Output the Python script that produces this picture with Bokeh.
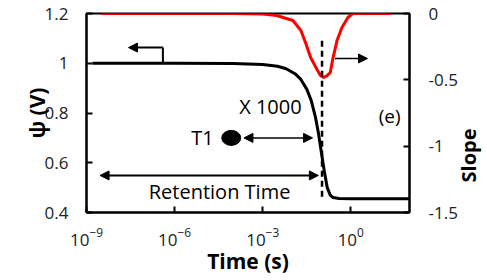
import math
from bokeh.plotting import figure
from bokeh.models import (Range1d, LinearAxis, FixedTicker, Arrow, NormalHead,
                          Label)
from bokeh.embed import file_html
from bokeh.resources import INLINE

# ---- data ----
psi_time = [1.6e-9, 1e-6, 1e-4, 1e-3, 3.2e-3, 6.3e-3, 1.26e-2, 2e-2, 3.2e-2, 4.5e-2,
            6.3e-2, 7.9e-2, 0.1, 0.126, 0.158, 0.2, 0.25, 0.4, 1.0, 10.0, 100.0]
psi_val = [1.0, 1.0, 0.999, 0.995, 0.988, 0.978, 0.958, 0.935, 0.895, 0.85,
           0.782, 0.72, 0.64, 0.565, 0.5, 0.47, 0.46, 0.456, 0.455, 0.455, 0.455]

slope_time = [3.4e-9, 1e-4, 1e-3, 3e-3, 1.07e-2, 2e-2, 2.95e-2, 4.3e-2, 7.4e-2, 0.093,
              0.118, 0.15, 0.2, 0.25, 0.34, 0.5, 0.8, 1.17, 23.0]
slope_val = [0.0, 0.0, -0.003, -0.015, -0.053, -0.128, -0.226, -0.332, -0.43, -0.468,
             -0.482, -0.472, -0.445, -0.332, -0.204, -0.106, -0.03, 0.0, 0.0]

x_ticks = [1e-9, 1e-6, 1e-3, 1.0]
y_ticks = [0.4, 0.6, 0.8, 1.0, 1.2]
y_tick_labels = ["0.4", "0.6", "0.8", "1", "1.2"]
slope_ticks = [0.0, -0.5, -1.0, -1.5]
slope_tick_labels = ["0", "-0.5", "-1", "-1.5"]

retention_t = 0.105           # dashed marker time
t1_time = 8.5e-5              # T1 point
t1_psi = 0.70

FONT = "Open Sans"

p = figure(width=487, height=280, x_axis_type="log",
           x_range=Range1d(1e-9, 1e2), y_range=Range1d(0.4, 1.2),
           output_backend="svg", toolbar_location=None,
           min_border_left=86, min_border_right=71, min_border_top=13,
           min_border_bottom=68)
p.extra_y_ranges = {"slope": Range1d(-1.5, 0)}

p.grid.visible = False
p.outline_line_color = "black"
p.outline_line_width = 2
p.background_fill_color = "white"
p.border_fill_color = "white"

xa = p.xaxis[0]
xa.ticker = FixedTicker(ticks=x_ticks)
xa.axis_label = "Time (s)"
ya = p.yaxis[0]
ya.ticker = FixedTicker(ticks=y_ticks)
ya.major_label_overrides = {v: s for v, s in zip(y_ticks, y_tick_labels)}
ya.axis_label = "ψ (V)"

ra = LinearAxis(y_range_name="slope", ticker=FixedTicker(ticks=slope_ticks))
ra.major_label_overrides = {v: s for v, s in zip(slope_ticks, slope_tick_labels)}
p.add_layout(ra, "right")

for ax in (xa, ya, ra):
    ax.axis_line_color = "black"
    ax.axis_line_width = 2
    ax.major_tick_in = 6
    ax.major_tick_out = 0
    ax.major_tick_line_width = 2
    ax.minor_tick_line_color = None
    ax.major_label_text_font = FONT
    ax.major_label_text_font_size = "17px"
    ax.major_label_text_color = "#222222"
    ax.axis_label_text_font = FONT
    ax.axis_label_text_font_style = "bold"
    ax.axis_label_text_font_size = "21px"
    ax.axis_label_text_color = "black"

xa.major_label_standoff = 15
xa.axis_label_standoff = -2
ya.major_label_standoff = 18
ya.axis_label_standoff = -9
ra.major_label_standoff = 19

# right axis title, placed in the right-hand panel
p.add_layout(Label(x=8, y=57, x_units="screen", y_units="screen", text="Slope",
                   text_font=FONT, text_font_size="20px", text_font_style="bold",
                   text_align="center", text_baseline="middle", angle=math.pi / 2,
                   text_color="black"), "right")

# curves
p.line(psi_time, psi_val, line_color="black", line_width=3)
p.line(slope_time, slope_val, line_color="red", line_width=3, y_range_name="slope")

# dashed marker
p.segment(x0=[retention_t], y0=[1.09], x1=[retention_t], y1=[0.46],
          line_color="black", line_width=2.5, line_dash="6 4")

# T1 point
p.ellipse(x=[t1_time], y=[t1_psi], width=19, height=15,
          width_units="screen", height_units="screen",
          fill_color="black", line_color="black")

def head():
    return NormalHead(size=9, fill_color="black", line_color="black")

# T1 double arrow
p.add_layout(Arrow(x_start=2.3e-4, y_start=0.70, x_end=0.05, y_end=0.70,
                   start=head(), end=head(), line_width=1.5))
# Retention time double arrow
p.add_layout(Arrow(x_start=2.9e-9, y_start=0.549, x_end=0.079, y_end=0.549,
                   start=head(), end=head(), line_width=2))
# left-pointing arrow for psi
p.segment(x0=[4e-7], y0=[1.0], x1=[4e-7], y1=[1.063], line_color="black", line_width=2)
p.add_layout(Arrow(x_start=4e-7, y_start=1.063, x_end=2.7e-8, y_end=1.063,
                   end=head(), line_width=2))
# right-pointing arrow for slope
p.add_layout(Arrow(x_start=0.29, y_start=-0.339, x_end=3.7, y_end=-0.339,
                   end=head(), line_width=1.5, y_range_name="slope"))

def lab(x, y, text, size="20px", align="left"):
    p.add_layout(Label(x=x, y=y, text=text, text_font=FONT, text_font_size=size,
                       text_align=align, text_baseline="middle", text_color="black"))

lab(1.58e-4, 0.826, "X 1000")
lab(2.15e-5, 0.70, "T1", align="right")
lab(3.4e-5, 0.484, "Retention Time", align="center")
lab(21.0, 0.786, "(e)", size="19px", align="center")

open("out.html", "w").write(file_html(p, INLINE))
